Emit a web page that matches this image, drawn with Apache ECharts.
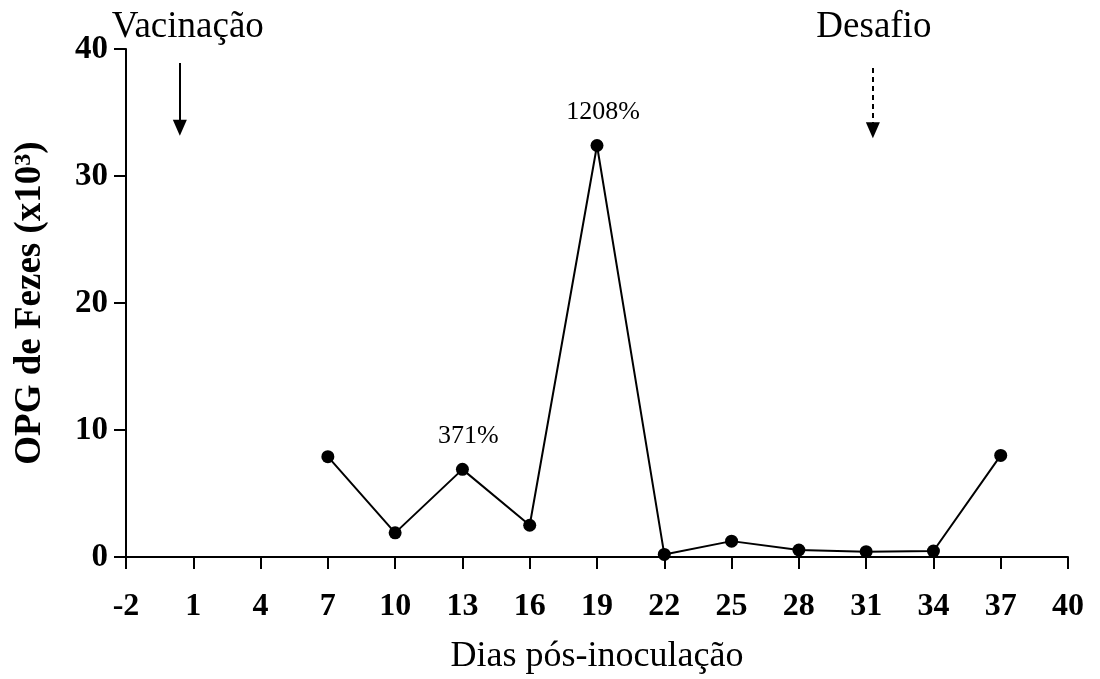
<!DOCTYPE html>
<html>
<head>
<meta charset="utf-8">
<script src="https://cdn.jsdelivr.net/npm/echarts@6/dist/echarts.min.js"></script>
<style>
  html, body { margin: 0; padding: 0; background: #fff; }
  #chart { width: 1100px; height: 679px; }
</style>
</head>
<body>
<div id="chart"></div>
<script>
// Fecal egg counts (OPG, x10^3) by day after inoculation
const days = [7, 10, 13, 16, 19, 22, 25, 28, 31, 34, 37];
const opg = [7.9, 1.9, 6.9, 2.5, 32.4, 0.2, 1.25, 0.55, 0.42, 0.47, 8.0];
const pctLabels = ['', '', '371%', '', '1208%', '', '', '', '', '', ''];

const xTicks = [-2, 1, 4, 7, 10, 13, 16, 19, 22, 25, 28, 31, 34, 37, 40];

// Event markers: day, arrow top / bottom (y units), caption
const vaccination = { day: 0.4, top: 38.9, bottom: 33.8, text: 'Vacinação' };
const challenge = { day: 31.3, top: 38.5, bottom: 33.6, text: 'Desafio' };

const FONT = '"Liberation Serif", "Times New Roman", serif';

const chart = echarts.init(document.getElementById('chart'));

const points = days.map((d, i) => [d, opg[i]]);

chart.setOption({
  animation: false,
  backgroundColor: '#fff',
  grid: {
    left: 126, right: 32, top: 49, bottom: 122,
    containLabel: false,
    outerBoundsMode: 'none'
  },
  xAxis: {
    type: 'value',
    min: -2,
    max: 40,
    name: 'Dias pós-inoculação',
    nameLocation: 'middle',
    nameGap: 82,
    nameTextStyle: { fontFamily: FONT, fontSize: 36, color: '#000' },
    axisLine: { onZero: false, lineStyle: { color: '#000', width: 2 } },
    axisTick: { customValues: xTicks, length: 12, lineStyle: { color: '#000', width: 2 } },
    axisLabel: {
      customValues: xTicks,
      margin: 34,
      fontFamily: FONT, fontSize: 32, fontWeight: 'bold', color: '#000'
    },
    splitLine: { show: false }
  },
  yAxis: {
    type: 'value',
    min: 0,
    max: 40,
    interval: 10,
    name: 'OPG de Fezes (x10{sup|3})',
    nameLocation: 'middle',
    nameGap: 77,
    nameTextStyle: {
      fontFamily: FONT, fontSize: 37, fontWeight: 'bold', color: '#000',
      rich: {
        sup: { fontFamily: FONT, fontSize: 24, fontWeight: 'bold', color: '#000', verticalAlign: 'top', lineHeight: 37, padding: [0, 0, 6, 0] }
      }
    },
    axisLine: { show: true, onZero: false, lineStyle: { color: '#000', width: 2 } },
    axisTick: { show: true, length: 12, lineStyle: { color: '#000', width: 2 } },
    axisLabel: {
      margin: 18,
      fontFamily: FONT, fontSize: 33, fontWeight: 'bold', color: '#000'
    },
    splitLine: { show: false }
  },
  series: [
    {
      type: 'line',
      data: points,
      symbol: 'circle',
      symbolSize: 13,
      itemStyle: { color: '#000' },
      lineStyle: { color: '#000', width: 2 },
      label: {
        show: true,
        position: 'top',
        distance: 14,
        offset: [6, 0],
        fontFamily: FONT, fontSize: 26, color: '#000',
        formatter: p => pctLabels[p.dataIndex]
      },
      markLine: {
        silent: true,
        symbol: ['none', 'triangle'],
        symbolSize: [14, 16],
        label: { show: false },
        data: [
          [
            { coord: [vaccination.day, vaccination.top], lineStyle: { type: 'solid', color: '#000', width: 2 } },
            { coord: [vaccination.day, vaccination.bottom] }
          ],
          [
            { coord: [challenge.day, challenge.top], lineStyle: { type: [5, 4], color: '#000', width: 2 } },
            { coord: [challenge.day, challenge.bottom] }
          ]
        ]
      }
    }
  ]
});

// Captions above each event arrow, placed through the grid's coordinate system
function caption(ev, dx) {
  const p = chart.convertToPixel({ gridIndex: 0 }, [ev.day, 40]);
  return {
    type: 'text',
    x: p[0] + dx,
    y: 27,
    style: {
      text: ev.text,
      fontFamily: FONT,
      fontSize: 37,
      fill: '#000',
      textAlign: 'center',
      textVerticalAlign: 'middle'
    }
  };
}
chart.setOption({ graphic: [caption(vaccination, 8), caption(challenge, 1)] });
</script>
</body>
</html>
